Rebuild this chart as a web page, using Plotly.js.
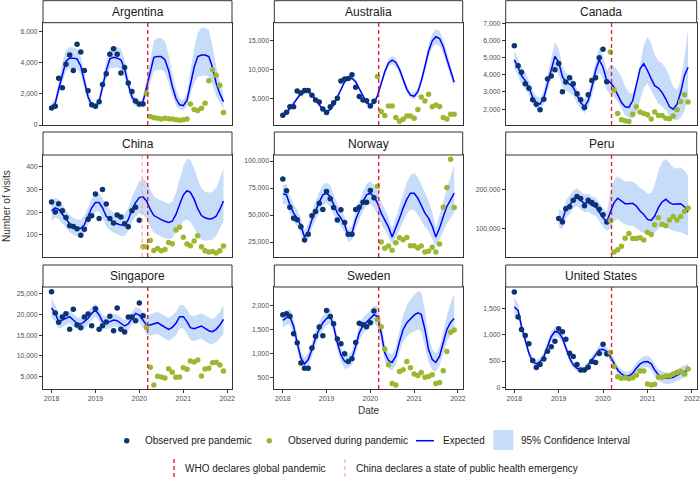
<!DOCTYPE html>
<html>
<head>
<meta charset="utf-8">
<script src="https://cdn.plot.ly/plotly-3.0.1.min.js"></script>
<style>
  html, body { margin: 0; padding: 0; background: #ffffff; }
  #chart { width: 700px; height: 477px; }
</style>
</head>
<body>
<div id="chart"></div>
<script>
/* ---------- data (monthly 2018-01 .. 2021-12) ---------- */
var months = [];
for (var yr = 2018; yr <= 2021; yr++) {
  for (var mo = 1; mo <= 12; mo++) months.push(yr + '-' + (mo < 10 ? '0' + mo : mo) + '-01');
}
var yearTicks = ['2018-01-01', '2019-01-01', '2020-01-01', '2021-01-01', '2022-01-01'];
var yearLabels = ['2018', '2019', '2020', '2021', '2022'];
var whoDate = '2020-03-11';
var chinaDate = '2020-01-25';

var countries = ['Argentina', 'Australia', 'Canada', 'China', 'Norway', 'Peru', 'Singapore', 'Sweden', 'United States'];

// Argentina
var argentinaPre = [1100,1200,3000,2400,3900,4500,3500,5200,4700,3500,2200,1300,1200,1500,2600,3300,4550,4900,4550,3350,3700,2700,2150,1550,1350,1350];
var argentinaDuring = [2050,550,470,430,390,430,400,390,340,300,340,390,1350,990,940,1070,1400,2850,3550,3200,2550,800];
var argentinaExp = [1200,1400,2300,3300,4100,4300,4300,4250,3800,2800,1800,1300,1200,1500,2500,3500,4250,4350,4300,4200,3600,2600,1800,1450,1300,1500,2400,3500,4350,4400,4400,4200,3500,2500,1700,1300,1250,1600,2600,3700,4400,4500,4500,4400,3700,2700,2000,1500];
var argentinaHi = [1400,1700,2800,4000,4800,5000,5000,4900,4400,3300,2200,1500,1400,1800,2900,4100,4900,5050,5000,4900,4200,3100,2200,1700,1500,1800,2900,4300,5400,5600,5600,5400,4500,3300,2300,1700,1600,2100,3400,4900,5900,6250,6250,6100,5100,3800,2800,2000];
var argentinaLo = [1000,1150,1900,2700,3500,3650,3650,3600,3250,2400,1500,1100,1000,1250,2100,2950,3650,3700,3700,3600,3050,2200,1450,1200,1100,1250,1950,2800,3450,3550,3550,3400,2750,1900,1250,1000,950,1200,1900,2700,3100,3150,3200,3100,2600,1850,1400,1050];

// Australia
var australiaPre = [2170,2690,3610,3610,6330,5980,6390,6390,5580,4770,4420,3210,2630,3610,4310,5060,8010,8350,8470,9100,6970,5350,4770,4650,3730,4540];
var australiaDuring = [8810,2800,2110,3730,3730,1760,1130,1470,2050,2050,1650,3150,5290,4600,5750,3610,3900,3670,1760,1530,2340,2340];
var australiaExp = [2100,2600,3300,4200,5200,5900,6200,6200,5700,4900,3900,3100,2800,3100,3900,5200,6700,7900,8400,8500,7900,6700,5300,4300,3900,4300,5500,7500,9600,11100,11600,11200,10000,8300,6600,5600,5400,6200,8000,10500,13100,14900,15600,15300,13900,11800,9700,7800];
var australiaHi = [2500,2950,3650,4550,5550,6250,6550,6550,6050,5250,4250,3450,3150,3450,4250,5550,7050,8250,8750,8850,8250,7050,5650,4650,4250,4650,6000,8050,10200,11750,12300,11900,10650,8900,7150,6100,5950,6850,8750,11400,14200,16100,16900,16600,15100,12900,10600,8600];
var australiaLo = [1750,2250,2950,3850,4850,5550,5850,5850,5350,4550,3550,2750,2450,2750,3550,4850,6350,7550,8050,8150,7550,6350,4950,3950,3550,3950,5000,6950,9000,10450,10900,10500,9350,7700,6050,5100,4850,5550,7250,9600,12000,13700,14300,14000,12700,10700,8800,7000];

// Canada
var canadaPre = [5690,4520,4150,3480,3210,2550,2290,1960,2570,3760,3930,4290,4660,3020,3580,3820,3480,2900,2550,2100,2840,3660,3820,4990,5480,3600];
var canadaDuring = [5320,3110,1750,1390,1320,1280,1710,2140,1840,1750,1670,1430,1840,1630,1630,1470,1450,1610,1960,2450,2840,2410];
var canadaExp = [4870,4440,3950,3660,3270,2680,2370,2290,2680,3460,4340,5070,4730,3890,3560,3460,3270,2780,2390,2140,2490,3270,4250,4870,4440,3660,3560,3270,2880,2390,2140,2100,2490,3460,4340,4640,4250,3760,3370,3230,2980,2590,2140,2000,2290,2980,3950,4440];
var canadaHi = [5400,4950,4450,4150,3700,3100,2750,2650,3100,3950,4950,5900,5500,4500,4100,4000,3750,3200,2800,2550,2900,3800,4900,5650,5150,4250,4550,4500,4250,3850,3300,2950,2900,3400,4600,5700,6200,5800,5200,4800,4650,4400,3900,3300,3100,3700,5000,6600];
var canadaLo = [4350,3950,3450,3200,2850,2300,2000,1950,2300,3000,3750,4300,4000,3300,3050,2950,2800,2350,2000,1750,2100,2750,3650,4150,3750,3100,2850,2700,2450,2050,1650,1500,1450,1750,2550,3250,3500,3100,2650,2300,2150,1950,1600,1400,1350,1500,1900,2800];

// China
var chinaPre = [245,201,237,206,176,140,137,127,98,125,169,184,280,172,300,236,172,152,188,179,149,136,206,221,164];
var chinaDuring = [48,48,75,31,40,30,36,67,61,122,134,90,60,52,73,96,48,30,25,27,21,30,51];
var chinaExp = [207,219,212,190,167,149,137,130,128,145,182,219,242,242,219,182,167,155,149,143,143,167,212,242,264,267,249,212,185,175,167,160,155,160,190,234,275,294,287,257,215,185,175,170,172,182,212,249];
var chinaHi = [255,262,255,232,207,187,175,168,167,185,222,260,280,282,262,227,212,200,196,190,192,218,268,305,335,349,335,300,270,258,250,243,238,245,285,345,400,435,430,395,345,305,290,285,290,305,345,390];
var chinaLo = [160,176,170,150,128,112,100,93,90,106,142,178,202,202,177,138,122,110,103,96,95,118,158,180,195,190,170,135,110,100,92,85,82,85,110,140,160,168,158,132,100,80,75,75,80,95,125,160];

// Norway
var norwayPre = [83400,72400,57300,47100,45600,39100,26800,32100,49300,53300,61000,55100,71700,65000,57000,45300,54800,43100,32100,32100,55100,57300,61900,61900,72700,65900];
var norwayDuring = [76700,25000,19200,21300,17300,24400,29000,27200,29300,21600,21600,19500,21300,15800,16400,20100,15800,23200,57300,75400,101600,57000];
var norwayExp = [69600,68700,59400,51800,47100,40100,29600,34800,45600,53900,61900,68700,70200,67100,59400,51800,47100,41000,30800,33300,45600,54800,62500,68700,70200,67100,61000,51800,45600,38800,29600,37900,47100,56400,64700,70200,70200,65600,59400,51800,47100,39500,29600,37900,48700,57900,64100,70200];
var norwayHi = [78000,78500,68000,60000,55000,47500,36000,42000,53500,62500,71000,78000,80000,77000,68500,60500,55000,48500,37000,40000,53500,63500,72000,79000,81000,78000,73000,62500,56000,48500,37000,47500,59000,70000,80000,87000,89000,85000,78000,69000,63000,53000,38000,50000,63000,75000,85000,96000];
var norwayLo = [61000,59000,51000,44000,39500,33000,23500,28000,38000,45500,53000,59500,61000,57500,50500,43500,39500,34000,25000,27000,38000,46500,53500,59000,60500,57000,50000,41500,36000,30000,22500,29500,37000,44500,51000,55000,54500,50000,45000,39000,35000,28500,21000,27500,35500,42000,47000,52000];

// Peru (series starts 2019-01)
var peruPre = [126100,116500,151300,156500,173000,182600,177400,159100,173000,167000,160900,149600,135700,116500];
var peruDuring = [120900,39100,45200,53900,74800,87000,73900,73900,75700,70400,90400,84300,109600,127800,110400,107000,121700,131300,121700,131300,144300,153000];
var peruExp = [126100,121700,149600,160000,175700,181700,173000,165200,167000,160000,156500,140900,127800,118300,140900,167000,178300,171300,164300,164300,165200,158300,145200,136500,123500,120900,132200,153900,168700,175700,167000,162600,162600,164300,156500,142600];
var peruHi = [150000,145000,172000,184000,198000,204000,196000,188000,190000,183000,180000,165000,152000,142000,195000,225000,235000,228000,222000,222000,222000,215000,205000,200000,190000,192000,212000,248000,272000,280000,268000,258000,255000,258000,250000,236000];
var peruLo = [103000,98000,127000,137000,153000,159000,150000,142000,144000,137000,133000,117000,104000,95000,100000,118000,125000,117000,110000,108000,107000,101000,93000,88000,84000,83000,88000,100000,106000,106000,98000,94000,92000,90000,86000,82000];

// Singapore
var singaporePre = [25550,20370,18110,19400,20210,16410,21260,17460,16810,19400,20130,17300,21420,16410,17300,18190,19560,16080,21580,16410,15760,19400,19400,18510,22800,19720];
var singaporeDuring = [16900,7180,2900,5000,4840,4600,6860,5970,4760,4840,7100,6700,8720,8480,8960,5080,6780,6940,8320,8400,7750,6290];
var singaporeExp = [21580,20290,18270,18670,19080,19480,18670,17860,17700,18270,19080,20290,21100,19890,18270,18020,18270,18670,18510,17860,17220,17700,19080,20290,19890,18670,17460,17460,17700,18020,17460,16900,16410,16900,17860,19480,19480,18270,16810,16570,16900,17220,16650,16080,15840,16410,17460,18830];
var singaporeHi = [24000,22200,20000,20300,20600,21000,20200,19400,19200,19800,20600,21800,22600,21400,19800,19500,19800,20200,20000,19400,18700,19200,20600,21800,21500,20500,19900,20000,20300,20700,20200,19700,19200,19700,20700,22200,22300,21200,19800,19600,19900,20300,19700,19200,18900,19500,20700,22300];
var singaporeLo = [19200,18400,16500,17000,17500,17900,17100,16300,16200,16700,17500,18700,19500,18300,16700,16500,16700,17100,17000,16300,15700,16200,17500,18700,18200,16800,15000,14900,15100,15300,14700,14100,13600,14100,15000,16700,16600,15300,13800,13500,13900,14100,13600,13000,12800,13300,14300,15300];

// Sweden
var swedenPre = [1810,1830,1775,1410,1220,800,690,690,1110,1360,1550,1370,1900,1770,1620,1300,1200,990,830,890,1230,1630,1600,1560,1640,1890];
var swedenDuring = [1710,1560,1090,760,370,340,620,655,830,700,570,535,600,500,515,550,370,390,635,1040,1440,1490];
var swedenExp = [1690,1750,1770,1570,1220,900,780,870,1080,1320,1510,1640,1730,1780,1570,1220,970,830,830,900,1150,1430,1580,1660,1750,1810,1770,1430,1010,850,810,940,1250,1500,1640,1730,1800,1850,1820,1500,1080,870,810,940,1220,1500,1650,1730];
var swedenHi = [1840,1900,1930,1740,1380,1040,920,1010,1230,1470,1660,1790,1880,1930,1730,1380,1120,980,970,1040,1300,1590,1740,1820,1920,1990,1990,1660,1200,1010,980,1120,1480,1800,2000,2130,2230,2300,2280,1890,1360,1090,1000,1130,1460,1800,2050,2250];
var swedenLo = [1540,1600,1610,1410,1060,760,640,730,930,1170,1360,1490,1580,1630,1420,1070,820,680,690,760,1000,1270,1420,1500,1580,1630,1560,1220,840,690,640,760,1040,1250,1350,1420,1460,1500,1460,1150,820,650,610,740,990,1250,1380,1440];

// United States
var usPre = [1810,1334,1100,985,826,508,375,432,540,686,769,877,1112,1055,915,648,585,432,330,330,381,489,470,642,820,635];
var usDuring = [661,394,203,172,184,165,184,229,311,311,64,44,57,191,191,216,216,254,280,305,254,349];
var usExp = [1525,1461,1156,902,648,489,445,489,585,775,966,1061,1042,934,762,553,426,362,330,343,426,521,635,712,724,680,585,457,330,254,216,216,267,362,445,483,489,445,330,235,191,172,172,191,235,267,299,330];
var usHi = [1700,1580,1250,990,720,560,515,555,660,860,1060,1160,1140,1020,840,620,490,425,395,410,495,595,715,795,810,765,670,540,410,335,300,300,355,455,545,590,600,555,440,345,300,280,280,300,345,380,415,450];
var usLo = [1350,1340,1060,815,575,420,375,420,510,690,870,960,945,845,685,485,360,300,265,275,360,450,555,630,640,595,500,375,250,175,135,135,180,270,345,375,380,335,220,125,85,65,65,85,125,155,185,215];

/* ---------- panel table ---------- */
var panels = [
  { pre: argentinaPre, during: argentinaDuring, exp: argentinaExp, hi: argentinaHi, lo: argentinaLo, start: 0, split: 26, yr: [0, 6560], dt: 2000 },
  { pre: australiaPre, during: australiaDuring, exp: australiaExp, hi: australiaHi, lo: australiaLo, start: 0, split: 26, yr: [490, 17950], dt: 5000 },
  { pre: canadaPre, during: canadaDuring, exp: canadaExp, hi: canadaHi, lo: canadaLo, start: 0, split: 26, yr: [1080, 7010], dt: 1000 },
  { pre: chinaPre, during: chinaDuring, exp: chinaExp, hi: chinaHi, lo: chinaLo, start: 0, split: 25, yr: [3, 451], dt: 100 },
  { pre: norwayPre, during: norwayDuring, exp: norwayExp, hi: norwayHi, lo: norwayLo, start: 0, split: 26, yr: [11160, 105560], dt: 25000 },
  { pre: peruPre, during: peruDuring, exp: peruExp, hi: peruHi, lo: peruLo, start: 12, split: 26, yr: [26100, 290400], dt: 100000 },
  { pre: singaporePre, during: singaporeDuring, exp: singaporeExp, hi: singaporeHi, lo: singaporeLo, start: 0, split: 26, yr: [1930, 26680], dt: 5000 },
  { pre: swedenPre, during: swedenDuring, exp: swedenExp, hi: swedenHi, lo: swedenLo, start: 0, split: 26, yr: [254, 2390], dt: 500 },
  { pre: usPre, during: usDuring, exp: usExp, hi: usHi, lo: usLo, start: 0, split: 26, yr: [-32, 1906], dt: 500 }
];

/* ---------- styles / geometry ---------- */
var W = 700, H = 477;
var NAVY = '#0a3472', GREEN = '#9cb82e', BLUE = '#0000ff', BAND = '#c6dcf8';
var RED = '#e3262b', PINK = '#f6aaaa', DARK = '#333333', GREY = '#4d4d4d';
var FONT = 'Liberation Sans, Arial, sans-serif';
function px(x) { return x / W; }
function py(y) { return 1 - y / H; }

var cols = [[43, 232], [274.3, 462.7], [505.7, 696.7]];
var rows = [[23, 125], [155, 257], [287, 389]];
var strips = [[0.7, 22.7], [132, 155], [265, 287]];

var traces = [];
var layout = {
  width: W, height: H,
  margin: { l: 0, r: 0, t: 0, b: 0 },
  paper_bgcolor: '#ffffff', plot_bgcolor: '#ffffff',
  showlegend: false,
  font: { family: FONT, color: DARK },
  shapes: [], annotations: []
};

panels.forEach(function (p, i) {
  var k = i + 1;
  var xa = 'x' + (k > 1 ? k : ''), ya = 'y' + (k > 1 ? k : '');
  var c = cols[i % 3], r = rows[Math.floor(i / 3)], s = strips[Math.floor(i / 3)];
  var bottomRow = Math.floor(i / 3) === 2;
  var xs = months.slice(p.start, p.start + p.exp.length);

  // 95% band
  traces.push({ x: xs, y: p.lo, xaxis: xa, yaxis: ya, mode: 'lines', line: { width: 0, color: BAND }, hoverinfo: 'skip' });
  traces.push({ x: xs, y: p.hi, xaxis: xa, yaxis: ya, mode: 'lines', fill: 'tonexty', fillcolor: BAND, line: { width: 0, color: BAND }, hoverinfo: 'skip' });
  // expected
  traces.push({ x: xs, y: p.exp, xaxis: xa, yaxis: ya, mode: 'lines', line: { color: BLUE, width: 1.5 } });
  // observed
  traces.push({ x: months.slice(p.start, p.split), y: p.pre, xaxis: xa, yaxis: ya, mode: 'markers', marker: { color: NAVY, size: 5.5 } });
  traces.push({ x: months.slice(p.split), y: p.during, xaxis: xa, yaxis: ya, mode: 'markers', marker: { color: GREEN, size: 5.5 } });

  layout['xaxis' + (k > 1 ? k : '')] = {
    domain: [px(c[0]), px(c[1])], anchor: ya, type: 'date',
    range: ['2017-10-22', '2022-02-10'],
    showgrid: false, zeroline: false, showline: true, mirror: true, linecolor: DARK, linewidth: 1,
    tickvals: yearTicks, ticktext: yearLabels,
    ticks: bottomRow ? 'outside' : '', ticklen: 3, tickcolor: DARK,
    showticklabels: bottomRow, tickfont: { size: 7, color: GREY, family: FONT }
  };
  layout['yaxis' + (k > 1 ? k : '')] = {
    domain: [py(r[1]), py(r[0])], anchor: xa,
    range: p.yr, dtick: p.dt, tickformat: ',d',
    showgrid: false, zeroline: false, showline: true, mirror: true, linecolor: DARK, linewidth: 1,
    ticks: 'outside', ticklen: 3, tickcolor: DARK,
    tickfont: { size: 6.8, color: GREY, family: FONT }
  };

  // event lines
  layout.shapes.push({ type: 'line', xref: xa, yref: ya + ' domain', x0: whoDate, x1: whoDate, y0: 0, y1: 1,
    line: { color: RED, width: 1.4, dash: '4px,3px' } });
  if (countries[i] === 'China') {
    layout.shapes.push({ type: 'line', xref: xa, yref: ya + ' domain', x0: chinaDate, x1: chinaDate, y0: 0, y1: 1,
      line: { color: PINK, width: 1.2, dash: '4px,3px' } });
  }

  // facet strip
  layout.shapes.push({ type: 'rect', xref: 'paper', yref: 'paper', x0: px(c[0]), x1: px(c[1]), y0: py(s[1]), y1: py(s[0]),
    fillcolor: '#ffffff', line: { color: DARK, width: 1 } });
  layout.annotations.push({ xref: 'paper', yref: 'paper', x: px((c[0] + c[1]) / 2), y: py((s[0] + s[1]) / 2),
    text: countries[i], showarrow: false, xanchor: 'center', yanchor: 'middle', font: { size: 12, color: '#1a1a1a' } });
});

/* ---------- axis titles ---------- */
layout.annotations.push({ xref: 'paper', yref: 'paper', x: px(369), y: py(410), text: 'Date', showarrow: false,
  xanchor: 'center', yanchor: 'middle', font: { size: 10, color: DARK } });
layout.annotations.push({ xref: 'paper', yref: 'paper', x: px(6), y: py(206), text: 'Number of visits', showarrow: false,
  textangle: -90, xanchor: 'center', yanchor: 'middle', font: { size: 10, color: DARK } });

/* ---------- legend (drawn by hand) ---------- */
function legendText(x, y, t) {
  layout.annotations.push({ xref: 'paper', yref: 'paper', x: px(x), y: py(y), text: t, showarrow: false,
    xanchor: 'left', yanchor: 'middle', font: { size: 10, color: '#1a1a1a' } });
}
function legendDot(x, y, col) {
  layout.shapes.push({ type: 'circle', xref: 'paper', yref: 'paper', x0: px(x - 2.7), x1: px(x + 2.7), y0: py(y + 2.7), y1: py(y - 2.7),
    fillcolor: col, line: { width: 0 } });
}
var L1 = 440.7, L2 = 468;
legendDot(126.7, L1, NAVY); legendText(143, L1, 'Observed pre pandemic');
legendDot(269.3, L1, GREEN); legendText(285.5, L1, 'Observed during pandemic');
layout.shapes.push({ type: 'line', xref: 'paper', yref: 'paper', x0: px(416), x1: px(434), y0: py(L1), y1: py(L1), line: { color: BLUE, width: 1.5 } });
legendText(441.5, L1, 'Expected');
layout.shapes.push({ type: 'rect', xref: 'paper', yref: 'paper', x0: px(493.3), x1: px(513.3), y0: py(450), y1: py(430), fillcolor: BAND, line: { width: 0 } });
legendText(519, L1, '95% Confidence Interval');
layout.shapes.push({ type: 'line', xref: 'paper', yref: 'paper', x0: px(174), x1: px(174), y0: py(477), y1: py(459), line: { color: RED, width: 1.4, dash: '4px,3px' } });
legendText(183.5, L2, 'WHO declares global pandemic');
layout.shapes.push({ type: 'line', xref: 'paper', yref: 'paper', x0: px(345), x1: px(345), y0: py(477), y1: py(459), line: { color: PINK, width: 1.2, dash: '4px,3px' } });
legendText(353.5, L2, 'China declares a state of public health emergency');

Plotly.newPlot('chart', traces, layout, { staticPlot: true, displayModeBar: false });
</script>
</body>
</html>
